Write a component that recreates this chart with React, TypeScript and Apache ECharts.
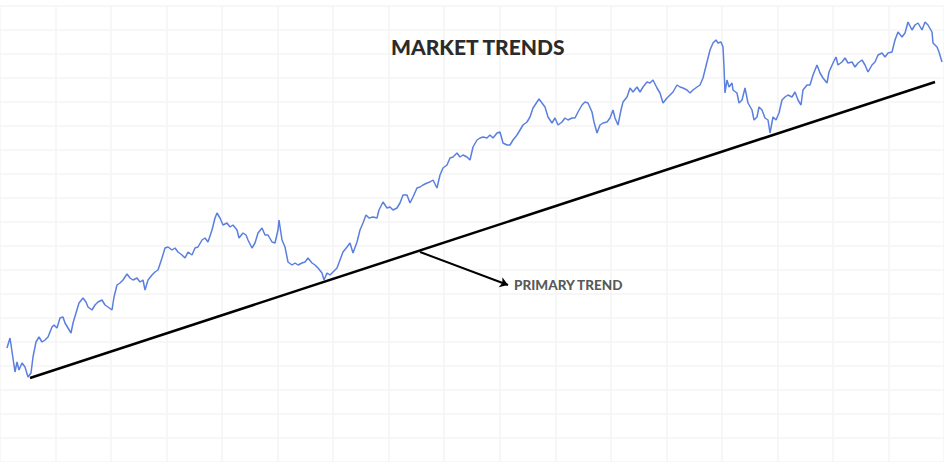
import React, { useEffect, useRef } from "react";
import * as echarts from "echarts";

// [day, price] readings of the market line, split by period
const pricesPeriod1: [number, number][] = [
  [7,114],[10,124],[15,90],[17,100],[19,92],[22,99],[25,95],[28,85],[31,89],[33,105],[36,120],[39,125],[42,120],[45,122],[48,125],[52,135],[54,137],[57,134],[60,144],[63,145],[65,139],[68,134],[71,129],[73,139],[76,149],[79,159],[83,164],[86,160],[88,155],[92,152],[95,157],[98,160],[102,162],[105,157],[108,155],[112,152],[114,165],[117,177],[120,179],[123,182],[127,188],[130,184],[133,182],[137,184],[140,180],[143,182],[145,172],[148,182],[152,187],[155,190],[158,192],[162,204],[165,214],[168,215],[172,212],[175,214],[178,210],[182,207],[185,204],[188,210],[192,207],[195,214],[198,215],[202,222],[205,224],[208,220],[212,232],[215,244],[217,249],[220,244],[223,237],[227,239],[230,235],[233,237],[237,232],
];
const pricesPeriod2: [number, number][] = [
  [239,224],[243,229],[246,227],[248,222],[252,214],[255,219],[258,229],[262,234],[265,227],[268,227],[272,220],[275,219],[278,232],[279,242],[282,222],[285,215],[288,200],[292,197],[295,199],[298,197],[302,199],[305,200],[308,204],[312,199],[315,197],[318,194],[322,189],[324,182],[327,189],[330,187],[333,190],[337,194],[340,202],[343,210],[347,215],[350,219],[353,209],[357,220],[360,232],[363,239],[366,247],[369,244],[373,245],[377,244],[379,252],[383,260],[387,254],[390,255],[393,252],[397,254],[400,259],[403,267],[407,267],[410,259],[413,265],[417,274],[420,275],[423,277],[427,279],[430,280],[433,282],[437,274],[440,287],[443,294],[447,297],[450,304],[453,305],[457,309],[460,305],[463,307],[467,305],[470,302],[473,315],
];
const pricesPeriod3: [number, number][] = [
  [477,322],[480,324],[483,325],[487,324],[490,327],[493,324],[497,329],[500,330],[503,319],[507,317],[510,317],[513,322],[517,327],[520,332],[523,337],[527,340],[530,345],[533,354],[537,360],[539,363],[542,359],[545,355],[548,345],[552,339],[555,344],[558,337],[562,340],[565,344],[568,342],[572,344],[575,344],[578,350],[582,357],[585,360],[588,359],[592,350],[594,340],[597,329],[600,337],[603,339],[607,340],[610,344],[613,352],[615,344],[618,337],[621,352],[623,360],[627,365],[630,374],[633,370],[637,375],[640,370],[643,375],[647,380],[650,379],[653,382],[657,374],[660,369],[663,359],[667,364],[670,367],[673,370],[677,377],[680,375],[683,374],[687,372],[690,369],[693,372],[697,375],[700,377],
];
const pricesPeriod4: [number, number][] = [
  [703,384],[707,400],[710,412],[713,419],[716,422],[718,419],[721,420],[723,415],[724,395],[725,369],[727,382],[729,375],[732,379],[733,372],[737,369],[739,359],[742,362],[745,374],[748,359],[752,352],[754,342],[757,345],[759,355],[762,352],[765,344],[768,342],[770,329],[773,345],[776,342],[779,349],[782,362],[785,365],[788,367],[792,365],[795,370],[798,362],[801,357],[803,372],[807,377],[810,377],[813,387],[817,397],[820,389],[823,384],[827,379],[829,390],[833,399],[836,405],[838,397],[842,400],[845,404],[848,399],[852,400],[855,395],[858,399],[862,402],[865,397],[868,390],[872,397],[875,400],[878,407],[882,409],[885,405],[888,409],[892,410],[895,422],[898,430],[902,425],[905,429],[908,440],[912,432],[915,437],[918,439],[922,432],[925,440],[928,437],[932,430],[933,419],[937,415],[939,410],[942,400],
];

const trendLine: [number, number][] = [[30, 84], [935, 380]];
const arrowStart: [number, number] = [420, 210];
const arrowEnd: [number, number] = [508, 177];
const labelPoint: [number, number] = [512, 177];

const titleText = "MARKET TRENDS";
const annotationText = "PRIMARY TREND";

export default function App() {
  const ref = useRef<HTMLDivElement>(null);
  useEffect(() => {
    if (!ref.current) return;
    const chart = echarts.init(ref.current, null, { renderer: "svg" });
    const prices = [...pricesPeriod1, ...pricesPeriod2, ...pricesPeriod3, ...pricesPeriod4];
    const hiddenAxis = {
      axisLine: { show: false },
      axisTick: { show: false },
      axisLabel: { show: false },
    };
    chart.setOption({
      animation: false,
      backgroundColor: "#ffffff",
      title: {
        text: titleText,
        left: 386,
        top: 31,
        textStyle: {
          fontFamily: "Lato",
          fontWeight: 900,
          fontSize: 21,
          color: "#2b2b2b",
        },
      },
      grid: [
        { left: 0, right: 0, top: 0, bottom: 0 },
        { left: -24.4, right: -41.4, top: 5.8, bottom: -3.6 },
      ],
      xAxis: [
        { type: "value", gridIndex: 0, min: 0, max: 944, splitLine: { show: false }, ...hiddenAxis },
        {
          type: "value", gridIndex: 1, min: 0, max: 17, interval: 1,
          splitLine: { show: true, lineStyle: { color: "#f5f5f5", width: 1.5 } },
          ...hiddenAxis,
        },
      ],
      yAxis: [
        { type: "value", gridIndex: 0, min: 0, max: 462, splitLine: { show: false }, ...hiddenAxis },
        {
          type: "value", gridIndex: 1, min: 0, max: 19, interval: 1,
          splitLine: { show: true, lineStyle: { color: "#f5f5f5", width: 1.5 } },
          ...hiddenAxis,
        },
      ],
      series: [
        {
          type: "line",
          xAxisIndex: 0,
          yAxisIndex: 0,
          data: prices,
          showSymbol: false,
          symbol: "none",
          lineStyle: { color: "#5a7fde", width: 1.5 },
          z: 3,
        },
        {
          type: "line",
          xAxisIndex: 0,
          yAxisIndex: 0,
          data: trendLine,
          showSymbol: false,
          symbol: "none",
          lineStyle: { color: "#000000", width: 2.5 },
          z: 4,
          markLine: {
            silent: true,
            symbol: ["none", "arrow"],
            symbolSize: 8,
            label: { show: false },
            lineStyle: { color: "#000000", width: 2, type: "solid" },
            data: [[{ coord: arrowStart }, { coord: arrowEnd }]],
          },
        },
        {
          type: "scatter",
          xAxisIndex: 0,
          yAxisIndex: 0,
          data: [labelPoint],
          symbolSize: 0,
          silent: true,
          label: {
            show: true,
            position: "right",
            distance: 2,
            formatter: annotationText,
            fontFamily: "Lato",
            fontWeight: 900,
            fontSize: 13.5,
            color: "#2b2b2b",
          },
        },
      ],
    });
    return () => chart.dispose();
  }, []);
  return (
    <div
      ref={ref}
      style={{ position: "absolute", left: 0, top: 0, width: 944, height: 462 }}
    />
  );
}
